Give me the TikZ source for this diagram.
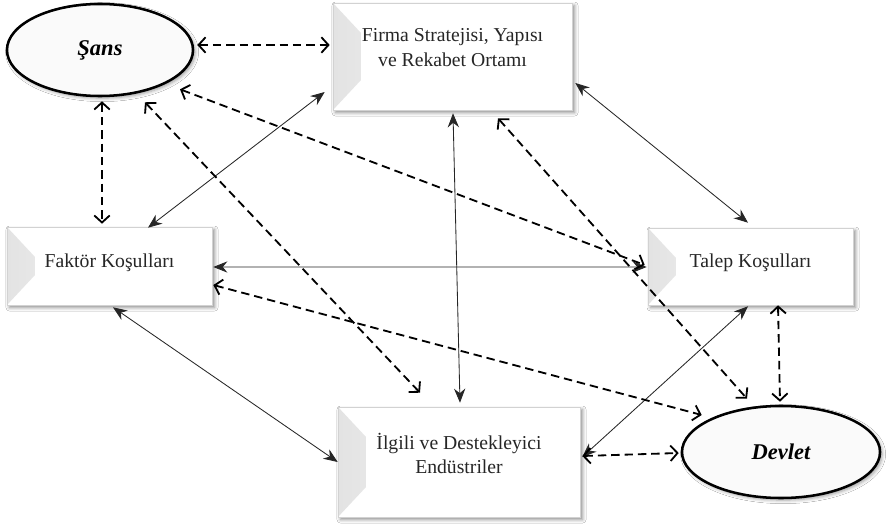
\documentclass[tikz,border=0pt]{standalone}
\usepackage{fontspec}
\setmainfont{Liberation Serif}
\usetikzlibrary{shapes,shadows.blur,calc,arrows.meta}

\begin{document}
\begin{tikzpicture}[x=0.025cm, y=-0.025cm,
    box/.style={ draw=gray!35, fill=white, line width=0.4pt,
      blur shadow={shadow xshift=1.8pt, shadow yshift=-1.8pt,
        shadow blur radius=2.5pt, shadow opacity=45},
      path picture={ \shade[left color=gray!22, right color=white]
        (path picture bounding box.north west)
        -- ([shift={(28,30)}]path picture bounding box.north west)
        -- ([shift={(28,-30)}]path picture bounding box.south west)
        -- (path picture bounding box.south west) -- cycle; } },
    boxtext/.style={ align=center, text=black!85,
      font=\fontsize{14}{17.5}\selectfont },
    oval/.style={ ellipse, draw, line width=1.8pt, fill=gray!4,
      font=\fontsize{16}{19}\selectfont\bfseries\itshape,
      blur shadow={shadow xshift=1.5pt, shadow yshift=-1.5pt,
        shadow blur radius=2.5pt, shadow opacity=40} },
    link/.style={ {Stealth[length=10pt,width=8pt]}-{Stealth[length=10pt,width=8pt]},
      line width=0.6pt, black!85 },
    dlink/.style={ {Straight Barb[length=5pt,width=11pt]}-{Straight Barb[length=5pt,width=11pt]},
      dash pattern=on 6pt off 3.5pt, line width=1.3pt } ]
  \path[use as bounding box, fill=white] (0,0) rectangle (887,525);

  % the six determinants
  \node[oval, minimum width=4.65cm, minimum height=2.3cm] (sans) at (100,50) {Şans};
  \node[oval, minimum width=4.95cm, minimum height=2.3cm] (devlet) at (781,452) {Devlet};
  \node[box, minimum width=5.975cm, minimum height=2.675cm,
    label={[boxtext, yshift=6.5pt]center:{Firma Stratejisi, Yapısı\\ve Rekabet Ortamı}}]
    (firma) at (452.5,56.5) {};
  \node[box, minimum width=5.125cm, minimum height=1.95cm,
    label={[boxtext, yshift=2.5pt]center:Faktör Koşulları}] (faktor) at (109.5,266) {};
  \node[box, minimum width=5.125cm, minimum height=1.925cm,
    label={[boxtext, yshift=3pt]center:Talep Koşulları}] (talep) at (750.5,266.5) {};
  \node[box, minimum width=6.05cm, minimum height=2.75cm,
    label={[boxtext, yshift=6pt]center:{İlgili ve Destekleyici\\Endüstriler}}]
    (ilgili) at (459,462) {};

  % solid links
  \draw[link] ($(firma.west)+(-8,35.5)$) -- ($(faktor.north)+(38.5,1)$);
  \draw[link] ($(firma.east)+(3,26.5)$) -- ($(talep.north)+(-2.5,-5)$);
  \draw[link] ($(firma.south)+(0.5,3)$) -- ($(ilgili.north)+(1,-4)$);
  \draw[link] ($(faktor.east)+(1,1)$) -- ($(talep.west)+(-1,0.5)$);
  \draw[link] ($(faktor.south)+(3.5,2)$) -- ($(ilgili.west)+(0,0)$);
  \draw[link] ($(talep.south)+(-2.5,1)$) -- ($(ilgili.east)+(2,-5)$);

  % dashed links (chance and government)
  \draw[dlink] ($(sans.east)+(3,-5)$) -- ($(firma.west)+(-3,-11.5)$);
  \draw[dlink] ($(sans.south)+(2,4)$) -- ($(faktor.north)+(-7.5,-3)$);
  \draw[dlink] ($(sans.south)+(45,5)$) -- ($(ilgili.north)+(-39,-14)$);
  \draw[dlink] ($(sans.south)+(80,-8)$) -- ($(talep.west)+(-3,-1.5)$);
  \draw[dlink] ($(firma.south)+(45.5,8)$) -- ($(devlet.north)+(-34,-6)$);
  \draw[dlink] ($(faktor.east)+(1,19)$) -- ($(devlet.west)+(21,-37)$);
  \draw[dlink] ($(talep.south)+(27.5,0)$) -- ($(devlet.north)+(-1,-3)$);
  \draw[dlink] ($(ilgili.east)+(2,-6)$) -- ($(devlet.west)+(-2,1)$);
\end{tikzpicture}
\end{document}
